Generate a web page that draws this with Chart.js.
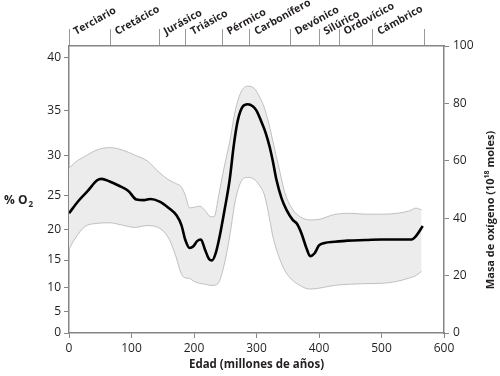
<!DOCTYPE html>
<html>
<head>
<meta charset="utf-8">
<script src="https://cdn.jsdelivr.net/npm/chart.js@4.4.1/dist/chart.umd.min.js"></script>
<style>
  html, body { margin: 0; padding: 0; background: #fff; }
</style>
</head>
<body>
<canvas id="oxygenChart" width="500" height="376"></canvas>
<script>
// oxygen mass through the Phanerozoic (10^18 moles), age in Ma

// main estimate
const lineAge = [0, 15, 30, 45, 52, 65, 80, 95, 108, 120, 130, 145, 160, 172, 180, 186, 193, 199, 205, 211, 218, 224, 229, 235, 241, 249, 257, 264, 270, 278, 286, 294, 300, 308, 315, 321, 326, 332, 340, 348, 358, 365, 372, 380, 386, 393, 400, 409, 425, 446, 475, 500, 525, 548, 556, 566];
const o2Mass = [41.7, 46, 49.5, 53.2, 53.7, 52.8, 51.3, 49.5, 46.5, 46.3, 46.7, 45.8, 43.5, 41, 37.5, 32.5, 29.6, 30.2, 32.0, 32.6, 28.8, 25.8, 25.3, 28, 33.6, 43, 53.3, 66, 74, 78.9, 79.7, 79, 77.5, 73.5, 69.5, 64.9, 60, 53.3, 47, 42.9, 39.4, 38, 34.7, 29.5, 26.8, 27.8, 30.5, 31.4, 31.8, 32.2, 32.4, 32.6, 32.6, 32.6, 34, 37.3];

// uncertainty band
const bandAge = [0, 10, 25, 45, 65, 85, 105, 125, 145, 160, 170, 180, 186, 193, 200, 209, 218, 226, 232, 240, 248, 257, 266, 276, 286, 296, 306, 312, 318, 322, 326, 336, 346, 358, 370, 385, 400, 425, 450, 475, 500, 525, 545, 555, 564];
const bandUpper = [57.4, 59.5, 61.5, 63.8, 64.6, 63.8, 62.0, 60.0, 55.8, 53.3, 52.2, 50.8, 48.0, 43.6, 43.8, 44.2, 42.6, 40.6, 40.5, 48.5, 57.5, 66.5, 77.5, 84.3, 86.0, 85.3, 81.8, 78.8, 74.5, 71.0, 67.0, 57.5, 48.5, 43.0, 40.5, 39.4, 39.6, 41.3, 41.7, 41.4, 41.4, 41.7, 42.6, 43.5, 42.9];
const bandLower = [29.2, 33.0, 37.0, 38.2, 38.4, 37.6, 36.8, 37.4, 36.5, 32.8, 27.3, 20.5, 19.2, 19.0, 18.0, 17.3, 17.0, 16.6, 16.6, 17.8, 23.5, 33.6, 46.0, 53.0, 54.2, 53.6, 51.0, 48.5, 43.0, 38.5, 33.8, 26.5, 21.5, 18.3, 16.5, 15.3, 15.6, 16.6, 17.0, 17.2, 17.3, 18.0, 19.2, 20.0, 21.5];

// geological periods (start ages, Ma)
const periodNames = ["Terciario", "Cretácico", "Jurásico", "Triásico", "Pérmico", "Carbonífero", "Devónico", "Silúrico", "Ordovícico", "Cámbrico"];
const periodBounds = [0, 66, 144, 187, 245, 289, 354, 400, 432, 486, 569];

// left axis: % O2 ticks, placed on the mass scale
const pctTicks = [0, 5, 10, 15, 20, 25, 30, 35, 40];
const OTHER_GAS = 144; // 10^18 moles of the rest of the atmosphere
const pctToMass = (p) => OTHER_GAS * p / (100 - p);

const INK = "#231f20";
const AXIS = "#858585";

const toPoints = (xs, ys) => xs.map((x, i) => ({ x: x, y: ys[i] }));

const extraText = {
  id: "extraText",
  afterDraw(chart) {
    const ctx = chart.ctx;
    const xs = chart.scales.x;
    const area = chart.chartArea;
    ctx.save();
    ctx.fillStyle = INK;

    // period names along the top
    ctx.font = "bold 10.5px 'Open Sans'";
    ctx.textAlign = "left";
    ctx.textBaseline = "alphabetic";
    periodNames.forEach((name, i) => {
      const px = xs.getPixelForValue(periodBounds[i]) + 7;
      ctx.save();
      ctx.translate(px, area.top - 11);
      ctx.rotate(-29 * Math.PI / 180);
      ctx.fillText(name, 0, 0);
      ctx.restore();
    });

    // % O2 on the left
    ctx.textBaseline = "middle";
    ctx.font = "bold 12px 'Open Sans'";
    ctx.fillText("% O", 4, 201);
    const w = ctx.measureText("% O").width;
    ctx.font = "bold 8px 'Open Sans'";
    ctx.fillText("2", 4 + w + 1, 205);

    // right title, bottom to top
    ctx.save();
    ctx.translate(491, 210);
    ctx.rotate(-Math.PI / 2);
    const a = "Masa de oxígeno (10", b = "18", c = " moles)";
    ctx.font = "bold 11px 'Open Sans'";
    const wa = ctx.measureText(a).width, wc = ctx.measureText(c).width;
    ctx.font = "bold 7px 'Open Sans'";
    const wb = ctx.measureText(b).width;
    const sx = -(wa + wb + wc) / 2;
    ctx.font = "bold 11px 'Open Sans'";
    ctx.fillText(a, sx, 0);
    ctx.font = "bold 7px 'Open Sans'";
    ctx.fillText(b, sx + wa, -4);
    ctx.font = "bold 11px 'Open Sans'";
    ctx.fillText(c, sx + wa + wb, 0);
    ctx.restore();

    ctx.restore();
  },
};

const tickFont = { family: "'Open Sans'", size: 12 };

new Chart(document.getElementById("oxygenChart"), {
  type: "line",
  data: {
    datasets: [
      {
        data: toPoints(bandAge, bandUpper),
        borderColor: "#b3b3b3",
        borderWidth: 0.8,
        backgroundColor: "#ececec",
        fill: "+1",
        pointRadius: 0,
        cubicInterpolationMode: "monotone",
        order: 2,
      },
      {
        data: toPoints(bandAge, bandLower),
        borderColor: "#b3b3b3",
        borderWidth: 0.8,
        fill: false,
        pointRadius: 0,
        cubicInterpolationMode: "monotone",
        order: 1,
      },
      {
        data: toPoints(lineAge, o2Mass),
        borderColor: "#000",
        borderWidth: 2.6,
        fill: false,
        pointRadius: 0,
        cubicInterpolationMode: "monotone",
        order: 0,
      },
    ],
  },
  options: {
    responsive: false,
    animation: false,
    layout: { padding: 0 },
    plugins: {
      legend: { display: false },
      tooltip: { enabled: false },
    },
    scales: {
      x: {
        type: "linear",
        position: "bottom",
        min: 0,
        max: 600,
        ticks: { stepSize: 100, color: INK, font: tickFont, padding: 3, maxRotation: 0 },
        grid: { drawOnChartArea: false, tickLength: 5, tickColor: AXIS },
        border: { color: AXIS, width: 1.5 },
        title: {
          display: true,
          text: "Edad (millones de años)",
          color: INK,
          font: { family: "'Open Sans'", size: 11.5, weight: "bold" },
          padding: { top: 2, bottom: 4 },
        },
        afterFit: (s) => { s.height = 43; },
      },
      xTop: {
        type: "linear",
        position: "top",
        min: 0,
        max: 600,
        afterBuildTicks: (s) => { s.ticks = periodBounds.map((v) => ({ value: v })); },
        ticks: { display: false },
        grid: { drawOnChartArea: false, tickLength: 17, tickColor: "#9a9a9a", tickWidth: 1 },
        border: { color: AXIS, width: 1.5 },
        afterFit: (s) => { s.height = 46; },
      },
      y: {
        type: "linear",
        position: "right",
        min: 0,
        max: 100,
        ticks: { stepSize: 20, color: INK, font: tickFont, padding: 4 },
        grid: { drawOnChartArea: false, tickLength: 5, tickColor: AXIS },
        border: { color: AXIS, width: 1.5 },
        afterFit: (s) => { s.width = 56; },
      },
      yLeft: {
        type: "linear",
        position: "left",
        min: 0,
        max: 100,
        afterBuildTicks: (s) => { s.ticks = pctTicks.map((p) => ({ value: pctToMass(p) })); },
        ticks: {
          color: INK,
          font: tickFont,
          padding: 3,
          autoSkip: false,
          callback: (v, i) => pctTicks[i],
        },
        grid: { drawOnChartArea: false, tickLength: 5, tickColor: AXIS },
        border: { color: AXIS, width: 1.5 },
        afterFit: (s) => { s.width = 69; },
      },
    },
  },
  plugins: [extraText],
});
</script>
</body>
</html>
